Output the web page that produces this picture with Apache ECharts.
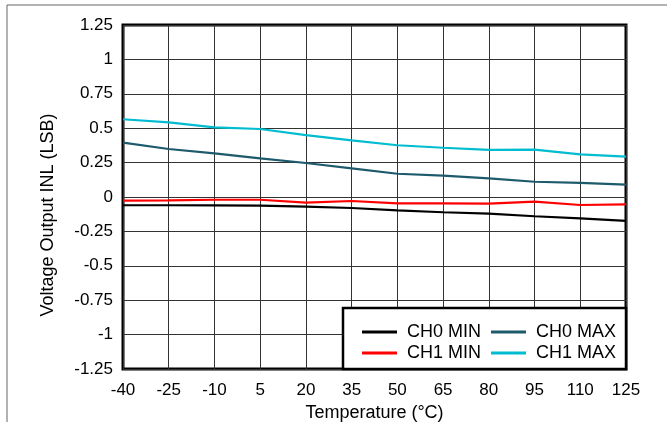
<!DOCTYPE html>
<html>
<head>
<meta charset="utf-8">
<script src="https://cdn.jsdelivr.net/npm/echarts@6/dist/echarts.min.js"></script>
<style>
html,body{margin:0;padding:0;background:#fff;}
#chart{width:667px;height:422px;}
</style>
</head>
<body>
<div id="chart"></div>
<script>
const temperatures = ['-40','-25','-10','5','20','35','50','65','80','95','110','125'];
const ch0Min = [-0.060,-0.060,-0.061,-0.063,-0.070,-0.080,-0.097,-0.111,-0.121,-0.140,-0.155,-0.174];
const ch1Min = [-0.027,-0.025,-0.020,-0.020,-0.041,-0.029,-0.046,-0.046,-0.048,-0.034,-0.058,-0.053];
const ch0Max = [0.395,0.349,0.317,0.281,0.247,0.208,0.169,0.155,0.136,0.111,0.102,0.090];
const ch1Max = [0.565,0.543,0.506,0.494,0.450,0.412,0.376,0.358,0.342,0.344,0.310,0.293];
const seriesNames = ['CH0 MIN','CH0 MAX','CH1 MIN','CH1 MAX'];
const yTicks = {min:-1.25, max:1.25, step:0.25};

const FONT = 'Liberation Sans, Arial, sans-serif';
const colors = {'CH0 MIN':'#000000','CH0 MAX':'#1d5a6b','CH1 MIN':'#ff0000','CH1 MAX':'#00bcd0'};
const dataMap = {'CH0 MIN':ch0Min,'CH0 MAX':ch0Max,'CH1 MIN':ch1Min,'CH1 MAX':ch1Max};

const chart = echarts.init(document.getElementById('chart'), null, {renderer:'canvas'});
const legendCommon = {
  icon:'rect', itemWidth:35, itemHeight:3, itemGap:10, z:20,
  textStyle:{fontFamily:FONT, fontSize:18, color:'#000', padding:[0,0,0,5]},
  selectedMode:false
};
chart.setOption({
  animation:false,
  grid:{left:123, right:41, top:25, bottom:53, outerBoundsMode:'none', containLabel:false,
        show:true, borderColor:'#000', borderWidth:3, backgroundColor:'#fff'},
  xAxis:{
    type:'category', data:temperatures, boundaryGap:false,
    name:'Temperature (°C)', nameLocation:'middle', nameGap:33,
    nameTextStyle:{fontFamily:FONT, fontSize:18, color:'#000'},
    axisLine:{show:false}, axisTick:{show:false},
    axisLabel:{fontFamily:FONT, fontSize:17, color:'#000', margin:13, interval:0},
    splitLine:{show:true, lineStyle:{color:'#333', width:1}}
  },
  yAxis:{
    type:'value', min:yTicks.min, max:yTicks.max, interval:yTicks.step,
    axisLine:{show:false}, axisTick:{show:false},
    axisLabel:{fontFamily:FONT, fontSize:17, color:'#000', margin:10},
    splitLine:{show:true, lineStyle:{color:'#333', width:1}}
  },
  legend:[
    Object.assign({data:['CH0 MIN','CH0 MAX'], left:357, top:318}, legendCommon),
    Object.assign({data:['CH1 MIN','CH1 MAX'], left:357, top:339}, legendCommon)
  ],
  graphic:[
    {type:'line', shape:{x1:7,y1:5,x2:667,y2:5}, style:{stroke:'#666', lineWidth:1}},
    {type:'line', shape:{x1:7,y1:5,x2:7,y2:422}, style:{stroke:'#666', lineWidth:1}},
    {type:'rect', z:10, shape:{x:343,y:308,width:283,height:61}, style:{fill:'#fff', stroke:'#000', lineWidth:2.5}},
    {type:'text', x:48, y:215, rotation:Math.PI/2,
     style:{text:'Voltage Output INL (LSB)', fontFamily:FONT, fontSize:18, fill:'#000', align:'center', verticalAlign:'middle'}}
  ],
  series: seriesNames.map(n => ({
    name:n, type:'line', data:dataMap[n], symbol:'none', smooth:false,
    color:colors[n], lineStyle:{color:colors[n], width:2.2}, z:3
  }))
});
</script>
</body>
</html>
